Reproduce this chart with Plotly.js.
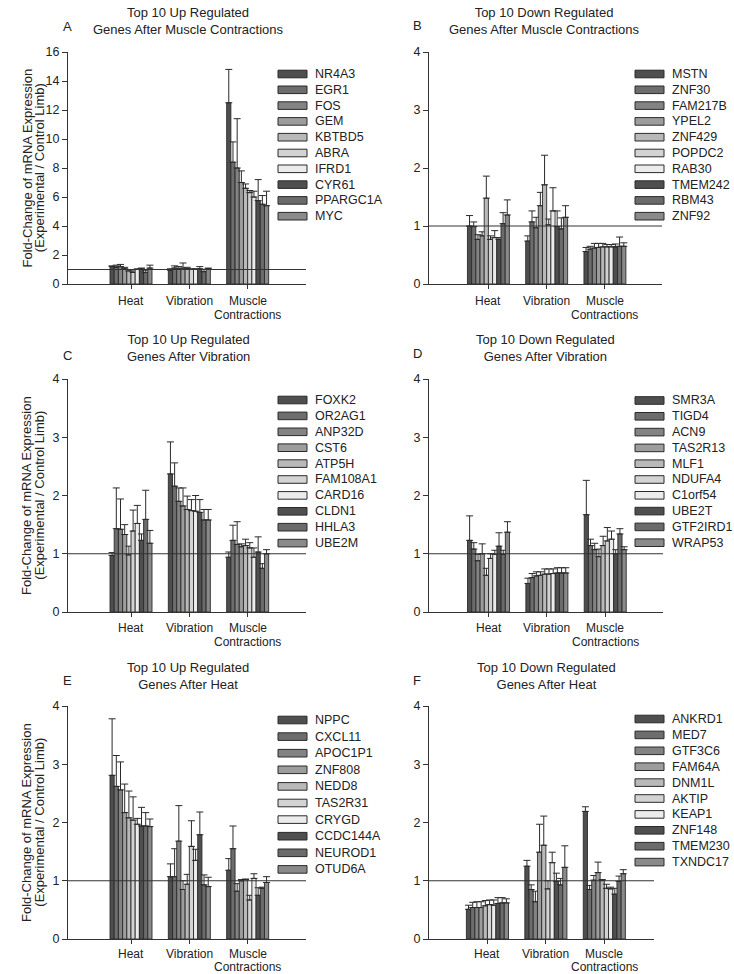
<!DOCTYPE html>
<html><head><meta charset="utf-8">
<script src="https://cdn.plot.ly/plotly-3.0.1.min.js"></script>
<style>html,body{margin:0;padding:0;background:#fff}#chart{width:734px;height:974px}</style>
</head><body><div id="chart"></div>
<script>
// ---------- DATA ----------
const categories = ['Heat', 'Vibration', 'Muscle<br>Contractions'];
const shades = ['#4f4f4f','#6d6d6d','#838383','#9d9d9d','#b9b9b9','#d3d3d3','#ececec','#4f4f4f','#6b6b6b','#8a8a8a'];

// Panel A: Top 10 up regulated after muscle contractions
const genesA = ['NR4A3','EGR1','FOS','GEM','KBTBD5','ABRA','IFRD1','CYR61','PPARGC1A','MYC'];
const meanA_heat = [1.2, 1.15, 1.2, 1.05, 0.9, 0.8, 1.0, 1.05, 0.8, 1.1];
const semA_heat  = [0.05, 0.15, 0.15, 0.1, 0.1, 0.1, 0.05, 0.05, 0.15, 0.2];
const meanA_vib  = [0.95, 1.1, 1.05, 1.1, 1.05, 1.0, 1.0, 1.05, 0.85, 1.05];
const semA_vib   = [0.1, 0.15, 0.15, 0.35, 0.1, 0.05, 0.05, 0.15, 0.15, 0.05];
const meanA_mus  = [12.5, 8.4, 8.0, 7.0, 6.6, 6.3, 6.0, 5.75, 5.5, 5.4];
const semA_mus   = [2.3, 1.4, 3.4, 0.8, 0.3, 0.15, 0.4, 1.45, 0.6, 1.0];

// Panel B: Top 10 down regulated after muscle contractions
const genesB = ['MSTN','ZNF30','FAM217B','YPEL2','ZNF429','POPDC2','RAB30','TMEM242','RBM43','ZNF92'];
const meanB_heat = [1.0, 0.99, 0.77, 0.83, 1.48, 0.77, 0.8, 0.77, 1.04, 1.19];
const semB_heat  = [0.18, 0.08, 0.08, 0.07, 0.38, 0.06, 0.12, 0.03, 0.19, 0.26];
const meanB_vib  = [0.74, 1.07, 0.97, 1.35, 1.71, 1.02, 1.26, 0.99, 0.95, 1.15];
const semB_vib   = [0.09, 0.19, 0.18, 0.23, 0.51, 0.10, 0.40, 0.27, 0.19, 0.20];
const meanB_mus  = [0.56, 0.6, 0.62, 0.63, 0.64, 0.64, 0.64, 0.64, 0.65, 0.65];
const semB_mus   = [0.07, 0.05, 0.08, 0.07, 0.06, 0.04, 0.04, 0.05, 0.16, 0.06];

// Panel C: Top 10 up regulated after vibration
const genesC = ['FOXK2','OR2AG1','ANP32D','CST6','ATP5H','FAM108A1','CARD16','CLDN1','HHLA3','UBE2M'];
const meanC_heat = [0.97, 1.43, 1.42, 1.33, 0.98, 1.39, 1.52, 1.23, 1.59, 1.18];
const semC_heat  = [0.05, 0.70, 0.52, 0.17, 0.15, 0.36, 0.31, 0.11, 0.50, 0.22];
const meanC_vib  = [2.37, 2.16, 1.9, 1.82, 1.76, 1.74, 1.73, 1.71, 1.58, 1.58];
const semC_vib   = [0.55, 0.40, 0.23, 0.31, 0.23, 0.19, 0.27, 0.22, 0.18, 0.18];
const meanC_mus  = [0.94, 1.23, 1.16, 1.12, 1.14, 1.1, 0.94, 1.03, 0.75, 1.0];
const semC_mus   = [0.09, 0.26, 0.39, 0.05, 0.11, 0.09, 0.16, 0.26, 0.08, 0.07];

// Panel D: Top 10 down regulated after vibration
const genesD = ['SMR3A','TIGD4','ACN9','TAS2R13','MLF1','NDUFA4','C1orf54','UBE2T','GTF2IRD1','WRAP53'];
const meanD_heat = [1.23, 1.08, 0.88, 1.0, 0.63, 0.92, 0.99, 1.13, 0.99, 1.37];
const semD_heat  = [0.42, 0.11, 0.11, 0.17, 0.12, 0.08, 0.07, 0.23, 0.07, 0.18];
const meanD_vib  = [0.49, 0.59, 0.62, 0.63, 0.65, 0.65, 0.66, 0.67, 0.67, 0.67];
const semD_vib   = [0.09, 0.07, 0.07, 0.06, 0.09, 0.09, 0.08, 0.09, 0.09, 0.09];
const meanD_mus  = [1.67, 1.14, 1.07, 0.95, 1.14, 1.22, 1.25, 1.0, 1.34, 1.07];
const semD_mus   = [0.59, 0.11, 0.11, 0.13, 0.16, 0.23, 0.14, 0.07, 0.09, 0.05];

// Panel E: Top 10 up regulated after heat
const genesE = ['NPPC','CXCL11','APOC1P1','ZNF808','NEDD8','TAS2R31','CRYGD','CCDC144A','NEUROD1','OTUD6A'];
const meanE_heat = [2.81, 2.62, 2.56, 2.17, 2.08, 2.04, 1.97, 1.94, 1.94, 1.93];
const semE_heat  = [0.97, 0.53, 0.48, 0.49, 0.46, 0.40, 0.10, 0.32, 0.23, 0.13];
const meanE_vib  = [1.07, 1.07, 1.68, 0.85, 0.94, 1.59, 1.35, 1.79, 0.93, 0.9];
const semE_vib   = [0.22, 0.48, 0.61, 0.15, 0.17, 0.44, 0.19, 0.39, 0.17, 0.16];
const meanE_mus  = [1.18, 1.55, 0.82, 1.0, 1.02, 0.67, 1.04, 0.75, 0.87, 0.97];
const semE_mus   = [0.20, 0.39, 0.13, 0.02, 0.01, 0.08, 0.08, 0.13, 0.02, 0.10];

// Panel F: Top 10 down regulated after heat
const genesF = ['ANKRD1','MED7','GTF3C6','FAM64A','DNM1L','AKTIP','KEAP1','ZNF148','TMEM230','TXNDC17'];
const meanF_heat = [0.51, 0.54, 0.54, 0.54, 0.57, 0.59, 0.58, 0.61, 0.62, 0.62];
const semF_heat  = [0.07, 0.09, 0.10, 0.10, 0.09, 0.08, 0.09, 0.10, 0.09, 0.07];
const meanF_vib  = [1.25, 0.85, 0.64, 1.49, 1.61, 0.86, 1.31, 0.99, 0.93, 1.23];
const semF_vib   = [0.10, 0.08, 0.18, 0.48, 0.50, 0.14, 0.18, 0.14, 0.11, 0.37];
const meanF_mus  = [2.19, 0.85, 1.01, 1.14, 1.01, 0.87, 0.86, 0.77, 0.99, 1.12];
const semF_mus   = [0.08, 0.07, 0.08, 0.18, 0.01, 0.07, 0.03, 0.10, 0.09, 0.07];

const panelTitles = [
  'Top 10 Up Regulated<br>Genes After Muscle Contractions',
  'Top 10 Down Regulated<br>Genes After Muscle Contractions',
  'Top 10 Up Regulated<br>Genes After Vibration',
  'Top 10 Down Regulated<br>Genes After Vibration',
  'Top 10 Up Regulated<br>Genes After Heat',
  'Top 10 Down Regulated<br>Genes After Heat'
];
const panelLetters = ['A','B','C','D','E','F'];
const yTitleLines = ['Fold-Change of mRNA Expression', '(Experimental / Control Limb)'];

// ---------- LAYOUT / DRAWING ----------
const W = 734, H = 974;
const FONT = 'Liberation Sans, Arial, Helvetica, sans-serif';
const TXT = '#222';
const fx = p => p / W;
const fy = p => 1 - p / H;

const panels = [
  {genes: genesA, mean: [meanA_heat, meanA_vib, meanA_mus], sem: [semA_heat, semA_vib, semA_mus],
   xpx: [68, 306], ypx: [52, 284], xr: [-1.08, 3.0], ymax: 16, dtick: 2, ytitle: true, cl: [17, 30.5],
   tcx: 188, tcy: 21, lx: 67, ly: 27, swx: 278, ly0: 74, lstep: 15.8},
  {genes: genesB, mean: [meanB_heat, meanB_vib, meanB_mus], sem: [semB_heat, semB_vib, semB_mus],
   xpx: [429, 662], ypx: [52, 284], xr: [-1.02, 2.98], ymax: 4, dtick: 1, ytitle: false, cl: [17, 30.5],
   tcx: 544, tcy: 21, lx: 417, ly: 25, swx: 635, ly0: 74, lstep: 15.8},
  {genes: genesC, mean: [meanC_heat, meanC_vib, meanC_mus], sem: [semC_heat, semC_vib, semC_mus],
   xpx: [68, 306], ypx: [379, 612], xr: [-1.08, 3.0], ymax: 4, dtick: 1, ytitle: true, cl: [16, 29.5],
   tcx: 188, tcy: 348, lx: 67, ly: 355, swx: 278, ly0: 400, lstep: 15.9},
  {genes: genesD, mean: [meanD_heat, meanD_vib, meanD_mus], sem: [semD_heat, semD_vib, semD_mus],
   xpx: [429, 663], ypx: [379, 612], xr: [-1.02, 2.99], ymax: 4, dtick: 1, ytitle: false, cl: [16, 29.5],
   tcx: 545, tcy: 348, lx: 417, ly: 353, swx: 635, ly0: 400.5, lstep: 15.8},
  {genes: genesE, mean: [meanE_heat, meanE_vib, meanE_mus], sem: [semE_heat, semE_vib, semE_mus],
   xpx: [68, 306], ypx: [706, 939], xr: [-1.08, 3.0], ymax: 4, dtick: 1, ytitle: true, cl: [14.5, 27.8],
   tcx: 188, tcy: 675.5, lx: 67, ly: 680, swx: 278, ly0: 720, lstep: 16.6},
  {genes: genesF, mean: [meanF_heat, meanF_vib, meanF_mus], sem: [semF_heat, semF_vib, semF_mus],
   xpx: [429, 654], ypx: [706, 939], xr: [-1.0, 2.85], ymax: 4, dtick: 1, ytitle: false, cl: [14.5, 27.8],
   tcx: 546, tcy: 675.5, lx: 417, ly: 680, swx: 635, ly0: 719, lstep: 15.9}
];

const traces = [];
const layout = {
  width: W, height: H,
  margin: {l: 0, r: 0, t: 0, b: 0},
  paper_bgcolor: '#fff', plot_bgcolor: '#fff',
  font: {family: FONT, color: TXT, size: 13},
  barmode: 'group', bargap: 0.28, bargroupgap: 0,
  showlegend: false,
  shapes: [], annotations: []
};

panels.forEach((p, k) => {
  const n = k + 1;
  const xa = n === 1 ? 'x' : 'x' + n;
  const ya = n === 1 ? 'y' : 'y' + n;
  const xk = n === 1 ? 'xaxis' : 'xaxis' + n;
  const yk = n === 1 ? 'yaxis' : 'yaxis' + n;

  p.genes.forEach((g, i) => {
    traces.push({
      type: 'bar', name: g, xaxis: xa, yaxis: ya,
      x: categories,
      y: [p.mean[0][i], p.mean[1][i], p.mean[2][i]],
      marker: {color: shades[i], line: {color: '#2a2a2a', width: 0.9}},
      error_y: {type: 'data', symmetric: false,
                array: [p.sem[0][i], p.sem[1][i], p.sem[2][i]],
                arrayminus: [0, 0, 0],
                color: '#2a2a2a', thickness: 1, width: 3.5},
      hovertemplate: g + ' %{x}: %{y}<extra></extra>'
    });
  });

  layout[xk] = {
    domain: [fx(p.xpx[0]), fx(p.xpx[1])], anchor: ya,
    type: 'category', range: p.xr, categoryorder: 'array', categoryarray: categories,
    showline: true, linecolor: '#333', linewidth: 1,
    ticks: 'outside', ticklen: 4, tickcolor: '#333', tickwidth: 1,
    showticklabels: false,
    showgrid: false, zeroline: false, fixedrange: true
  };
  layout[yk] = {
    domain: [fy(p.ypx[1]), fy(p.ypx[0])], anchor: xa,
    range: [0, p.ymax], dtick: p.dtick, tick0: 0,
    showline: true, linecolor: '#333', linewidth: 1,
    ticks: 'outside', ticklen: 5, tickcolor: '#333', tickwidth: 1,
    showgrid: false, zeroline: false, fixedrange: true,
    tickfont: {family: FONT, size: 12.5, color: TXT}
  };

  // category labels under each group (lines set tightly, as in the original)
  categories.forEach(c => {
    c.split('<br>').forEach((line, li) => {
      layout.annotations.push({text: line, xref: xa, yref: 'paper',
        x: c, y: fy(p.ypx[1] + p.cl[li]), xanchor: 'center', yanchor: 'middle',
        borderpad: 0, showarrow: false, font: {family: FONT, size: 12, color: TXT}});
    });
  });

  // y-axis title (two tightly spaced lines, rotated)
  if (p.ytitle) {
    const cy = (p.ypx[0] + p.ypx[1]) / 2;
    [26.5, 39.2].forEach((xp, j) => {
      layout.annotations.push({text: yTitleLines[j], xref: 'paper', yref: 'paper',
        x: fx(xp), y: fy(cy), xanchor: 'center', yanchor: 'middle', textangle: -90,
        borderpad: 0, showarrow: false, font: {family: FONT, size: 13, color: TXT}});
    });
  }

  // reference line at fold-change = 1
  layout.shapes.push({type: 'line', xref: xa + ' domain', yref: ya,
    x0: 0, x1: 1, y0: 1, y1: 1, line: {color: '#333', width: 1}, layer: 'above'});

  // panel title and letter
  layout.annotations.push({text: panelTitles[k], xref: 'paper', yref: 'paper',
    x: fx(p.tcx), y: fy(p.tcy), xanchor: 'center', yanchor: 'middle', showarrow: false,
    font: {family: FONT, size: 13, color: TXT}});
  layout.annotations.push({text: panelLetters[k], xref: 'paper', yref: 'paper',
    x: fx(p.lx), y: fy(p.ly), xanchor: 'center', yanchor: 'middle', showarrow: false,
    font: {family: FONT, size: 13, color: TXT}});

  // legend (swatch + label for each gene)
  p.genes.forEach((g, i) => {
    const cy = p.ly0 + i * p.lstep;
    layout.shapes.push({type: 'rect', xref: 'paper', yref: 'paper',
      x0: fx(p.swx), x1: fx(p.swx + 29), y0: fy(cy + 3.8), y1: fy(cy - 3.8),
      fillcolor: shades[i], line: {color: '#2a2a2a', width: 1}});
    layout.annotations.push({text: g, xref: 'paper', yref: 'paper',
      x: fx(p.swx + 36), y: fy(cy), xanchor: 'left', yanchor: 'middle', showarrow: false,
      borderpad: 0, font: {family: FONT, size: 12.5, color: TXT}});
  });
});

Plotly.newPlot('chart', traces, layout, {displayModeBar: false, staticPlot: true});
</script>
</body></html>
